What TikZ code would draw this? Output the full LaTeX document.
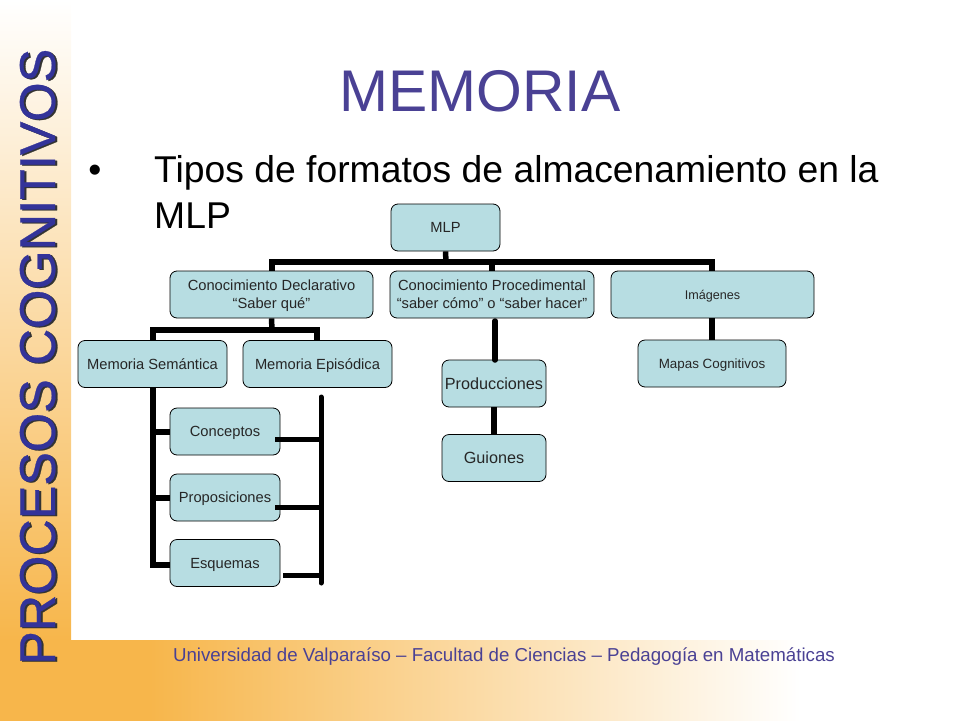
\documentclass[tikz,border=0pt]{standalone}
\usepackage{fontspec}
\setmainfont{Liberation Sans}
\newfontfamily\ladofont[FakeBold=0.5]{Liberation Sans}
\definecolor{bandorange}{HTML}{F7B64B}
\definecolor{boxfill}{HTML}{B7DDE2}
\definecolor{titleblue}{HTML}{4A4194}
\definecolor{sideblue}{HTML}{333399}
\tikzset{
cajita/.style={draw=black,fill=boxfill,rounded corners=7pt,line width=0.8pt,inner sep=0pt,align=center,text=black!85,text depth=0pt},
rama/.style={draw=black,line width=5.5pt},
}
\newcommand{\caja}[6]{\node[cajita,minimum width=#3 pt,minimum height=47pt,font=\fontsize{#4}{#5}\selectfont](#1)at(#2){#6};}
\begin{document}
\begin{tikzpicture}[x=1pt,y=-1pt]
\useasboundingbox(0,0)rectangle(960,720);
% fondo
\shade[top color=white,bottom color=bandorange](0,0)rectangle(71,640);
\fill[bandorange](0,640)rectangle(150,722);
\shade[left color=bandorange,right color=white](150,640)rectangle(800,722);
% textos
\node[rotate=90,anchor=base west,text=black!80,font=\ladofont\fontsize{50.4}{51}\selectfont,inner sep=0pt](sombra)at(57,666){PROCESOS COGNITIVOS};
\node[rotate=90,anchor=base west,text=sideblue,font=\ladofont\fontsize{50.4}{51}\selectfont,inner sep=0pt](lateral)at(55,665){PROCESOS COGNITIVOS};
\node[anchor=base,text=titleblue,font=\fontsize{58.8}{60}\selectfont,inner sep=0pt](titulo)at(480,111){MEMORIA};
\node[anchor=base,font=\fontsize{37.3}{38}\selectfont,inner sep=0pt](punto)at(95,182){•};
\node[anchor=base west,font=\fontsize{37.3}{38}\selectfont,inner sep=0pt](linea1)at(154,182){Tipos de formatos de almacenamiento en la};
\node[anchor=base west,font=\fontsize{37.3}{38}\selectfont,inner sep=0pt](linea2)at(154,228){MLP};
\node[anchor=base,text=titleblue,font=\fontsize{18.7}{19}\selectfont,inner sep=0pt](pie)at(504,661){Universidad de Valparaíso – Facultad de Ciencias – Pedagogía en Matemáticas};
% ramas
\coordinate(busizq)at(272,262);
\coordinate(busder)at(712,262);
\coordinate(buspro)at(492,262);
\coordinate(busmlp)at(446,262);
\coordinate(semiz)at(153,330);
\coordinate(epder)at(317,330);
\coordinate(dec)at(272,330);
\coordinate(proini)at(495,321);
\coordinate(proend)at(495,360);
\coordinate(vtop)at(321,397);
\coordinate(vbot)at(321,583);
\coordinate(tr1)at(153,432);
\coordinate(tr2)at(153,498);
\coordinate(tr3)at(153,565);
\coordinate(st1)at(275,439);
\coordinate(st2)at(275,507);
\coordinate(st3)at(283,575);
\coordinate(en1)at(321,439);
\coordinate(en2)at(321,507);
\coordinate(en3)at(321,575);
% cajas
\caja{mlp}{445.5,227.5}{109}{14.7}{17}{MLP}
\caja{decl}{271.5,294.5}{203}{14.7}{18}{Conocimiento Declarativo\\“Saber qué”}
\caja{proc}{492,294.5}{204}{14.7}{18}{Conocimiento Procedimental\\“saber cómo” o “saber hacer”}
\caja{imag}{712.5,294.5}{203}{12.6}{15}{Imágenes}
\caja{sem}{152.5,364}{149}{14.7}{17}{Memoria Semántica}
\caja{epi}{317.5,364}{149}{14.7}{17}{Memoria Episódica}
\caja{mapas}{712,363.5}{148}{13.4}{16}{Mapas Cognitivos}
\caja{prod}{494,383.5}{104}{16.2}{19}{Producciones}
\caja{guion}{494,458}{104}{16.2}{19}{Guiones}
\caja{conc}{225,431.5}{110}{14.7}{17}{Conceptos}
\caja{prop}{225,497.5}{110}{14.7}{17}{Proposiciones}
\caja{esq}{225,563}{110}{14.7}{17}{Esquemas}
\draw[rama](mlp.south)--(busmlp);
\draw[rama,line cap=rect](busizq)--(busder);
\draw[rama](buspro)--(buspro|-proc.north);
\draw[rama](busizq)--(busizq|-decl.north);
\draw[rama](busder)--(busder|-imag.north);
\draw[rama](decl.south)--(dec);
\draw[rama,line join=miter](sem.north-|semiz)--(semiz)--(epder)--(epi.north-|epder);
\draw[rama](imag.south-|busder)--(mapas.north-|busder);
\draw[rama,line cap=round](proini)--(proend);
\draw[rama](prod.south)--(guion.north);
\draw[rama,line join=miter](sem.south-|semiz)--(tr3)--(esq.west|-tr3);
\draw[rama](tr1)--(conc.west|-tr1);
\draw[rama](tr2)--(prop.west|-tr2);
\draw[rama,line width=5pt,line cap=round](vtop)--(vbot);
\draw[rama,line width=5pt](st1)--(en1);
\draw[rama,line width=5pt](st2)--(en2);
\draw[rama,line width=5pt](st3)--(en3);
\end{tikzpicture}
\end{document}
